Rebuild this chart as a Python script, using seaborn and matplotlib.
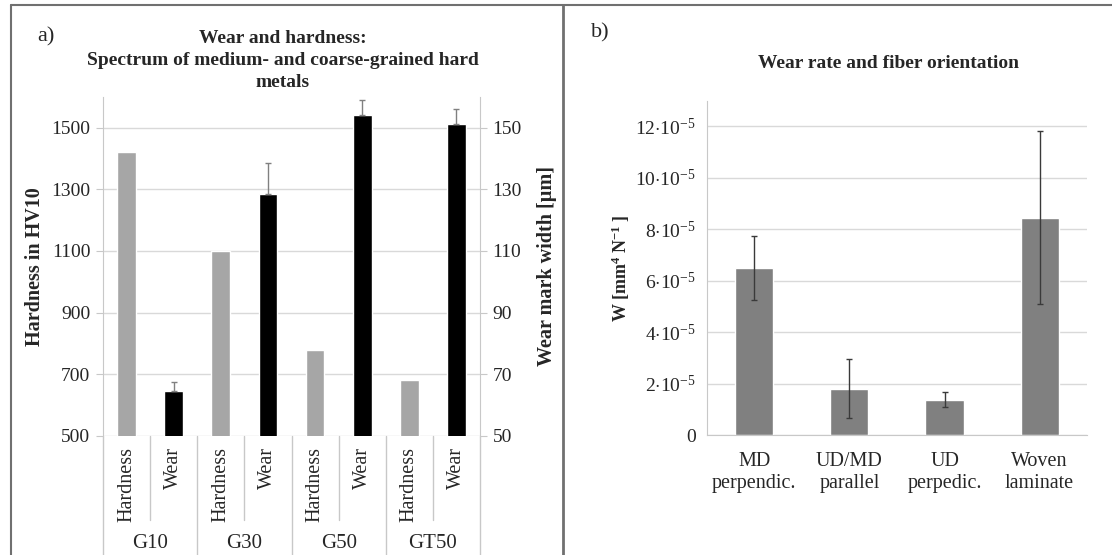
import numpy as np
import pandas as pd
import seaborn as sns
import matplotlib.pyplot as plt
from matplotlib.lines import Line2D
from matplotlib.transforms import blended_transform_factory

# panel a) data
grades = ["G10", "G30", "G50", "GT50"]
measures = ["Hardness", "Wear"]
hardness = [1420, 1100, 780, 680]          # HV10, left axis
wear = [64.5, 128.5, 154.0, 151.0]         # wear mark width [um], right axis
wear_err = [3.0, 10.0, 5.0, 5.0]
hard_ticks = [500, 700, 900, 1100, 1300, 1500]
wear_ticks = [50, 70, 90, 110, 130, 150]

# panel b) data
fibre = ["MD\nperpendic.", "UD/MD\nparallel", "UD\nperpedic.", "Woven\nlaminate"]
wear_rate = [6.5e-5, 1.8e-5, 1.37e-5, 8.45e-5]
wear_rate_err = [1.25e-5, 1.15e-5, 0.3e-5, 3.35e-5]
rate_ticks = [0, 2e-5, 4e-5, 6e-5, 8e-5, 10e-5, 12e-5]

sns.set_style("white")
plt.rcParams['font.family'] = ['Liberation Serif', 'DejaVu Serif']
plt.rcParams['mathtext.fontset'] = 'custom'
plt.rcParams['mathtext.rm'] = 'Liberation Serif'
plt.rcParams['mathtext.it'] = 'Liberation Serif:italic'
plt.rcParams['mathtext.bf'] = 'Liberation Serif:bold'

W, H = 1112, 555
fig = plt.figure(figsize=(W / 100, H / 100), dpi=100)
grid_c = '#d9d9d9'
axis_c = '#c8c8c8'
TICK = 14

# ---------------- panel a)
ax = fig.add_axes([103 / W, 1 - 436 / H, 377 / W, (436 - 96.7) / H])
slots = [f"{g} {m}" for g in grades for m in measures]
df_h = pd.DataFrame({"slot": [f"{g} Hardness" for g in grades], "value": hardness})
df_w = pd.DataFrame({"slot": [f"{g} Wear" for g in grades], "value": wear})

sns.barplot(data=df_h, x="slot", y="value", order=slots, color="#a6a6a6",
            saturation=1, width=0.4, ax=ax)
ax.set_ylim(500, 1600)
ax.set_yticks(hard_ticks)
ax.yaxis.grid(True, color=grid_c, lw=1)
ax.set_axisbelow(True)

ax2 = ax.twinx()
sns.barplot(data=df_w, x="slot", y="value", order=slots, color="black",
            saturation=1, width=0.4, ax=ax2)
wpos = [slots.index(f"{g} Wear") for g in grades]
ax2.errorbar(wpos, wear, yerr=[[0] * len(wear), wear_err], fmt='none',
             ecolor='#808080', elinewidth=1, capsize=2.5, capthick=1)
ax2.set_ylim(50, 160)
ax2.set_yticks(wear_ticks)

for a in (ax, ax2):
    for s in a.spines.values():
        s.set_visible(False)
    a.tick_params(axis='y', length=5, color=axis_c, labelsize=TICK, pad=4)
ax.spines['left'].set_visible(True)
ax.spines['left'].set_color(axis_c)
ax2.spines['right'].set_visible(True)
ax2.spines['right'].set_color(axis_c)

ax.set_xticks(range(len(slots)))
ax.set_xticklabels([m for g in grades for m in measures], rotation=90,
                   va='top', ha='center', fontsize=14.5)
ax.tick_params(axis='x', length=0, pad=8)
ax.set_xlabel("")
ax2.set_xlabel("")
ax.set_xlim(-0.5, len(slots) - 0.5)

ax.set_ylabel("Hardness in HV10", fontsize=14.5, fontweight='bold')
ax.yaxis.set_label_coords(-0.155, 0.5)
ax2.set_ylabel("Wear mark width [µm]", fontsize=14.5, fontweight='bold')
ax2.yaxis.set_label_coords(1.151, 0.5)

tr = blended_transform_factory(ax.transData, ax.transAxes)
for i in range(len(slots) + 1):
    b = i - 0.5
    y_end = -0.351 if i % 2 == 0 else -0.248
    ax.plot([b, b], [0, y_end], color=axis_c, lw=1, transform=tr, clip_on=False)
for k, g in enumerate(grades):
    ax.text(2 * k + 0.5, -0.318, g, transform=tr, ha='center', va='center', fontsize=15)

fig.text(283 / W, 1 - 30 / H,
         "Wear and hardness:\nSpectrum of medium- and coarse-grained hard\nmetals",
         ha='center', va='top', fontsize=14, fontweight='bold', linespacing=1.4)
fig.text(37 / W, 1 - 37 / H, "a)", ha='left', va='center', fontsize=16)

# ---------------- panel b)
bx = fig.add_axes([706.7 / W, 1 - 435 / H, 380.5 / W, (435 - 100.5) / H])
sns.barplot(x=fibre, y=wear_rate, color="#808080", saturation=1, width=0.4, ax=bx)
bx.errorbar(range(len(fibre)), wear_rate, yerr=wear_rate_err, fmt='none',
            ecolor='#3a3a3a', elinewidth=1, capsize=2.5, capthick=1)
bx.set_ylim(0, 13e-5)
bx.set_yticks(rate_ticks)
bx.set_yticklabels(['0'] + [rf'$\mathrm{{{int(round(t * 1e5))}{{\cdot}}10^{{-5}}}}$'
                            for t in rate_ticks[1:]])
bx.yaxis.grid(True, color=grid_c, lw=1)
bx.set_axisbelow(True)
for s in ('top', 'right'):
    bx.spines[s].set_visible(False)
for s in ('left', 'bottom'):
    bx.spines[s].set_color(axis_c)
bx.tick_params(axis='y', length=5, color=axis_c, labelsize=TICK, pad=3)
bx.set_xticks(np.arange(len(fibre)))
bx.set_xticklabels(fibre, fontsize=14.5, linespacing=1.25)
bx.set_xticks(np.arange(len(fibre) + 1) - 0.5, minor=True)
bx.tick_params(axis='x', which='major', length=0, pad=12)
bx.tick_params(axis='x', which='minor', length=5, color=axis_c)
bx.set_xlim(-0.5, len(fibre) - 0.5)
bx.set_ylabel(r'$\mathbf{W\ [mm^{4}\ N^{-1}\ ]}$', fontsize=13)
bx.yaxis.set_label_coords(-0.196, 0.5)
fig.text(889 / W, 1 - 63 / H, "Wear rate and fiber orientation",
         ha='center', va='center', fontsize=14, fontweight='bold')
fig.text(591 / W, 1 - 33 / H, "b)", ha='left', va='center', fontsize=16)

# frame lines
frame_c = '#707070'
fig.add_artist(Line2D([10.5 / W, 10.5 / W], [0, 1 - 5 / H], color=frame_c, lw=1.5))
fig.add_artist(Line2D([10.5 / W, 1], [1 - 5 / H, 1 - 5 / H], color=frame_c, lw=1.5))
fig.add_artist(Line2D([562.7 / W, 562.7 / W], [0, 1 - 5 / H], color=frame_c, lw=2))

fig.savefig("out.png", dpi=100)
